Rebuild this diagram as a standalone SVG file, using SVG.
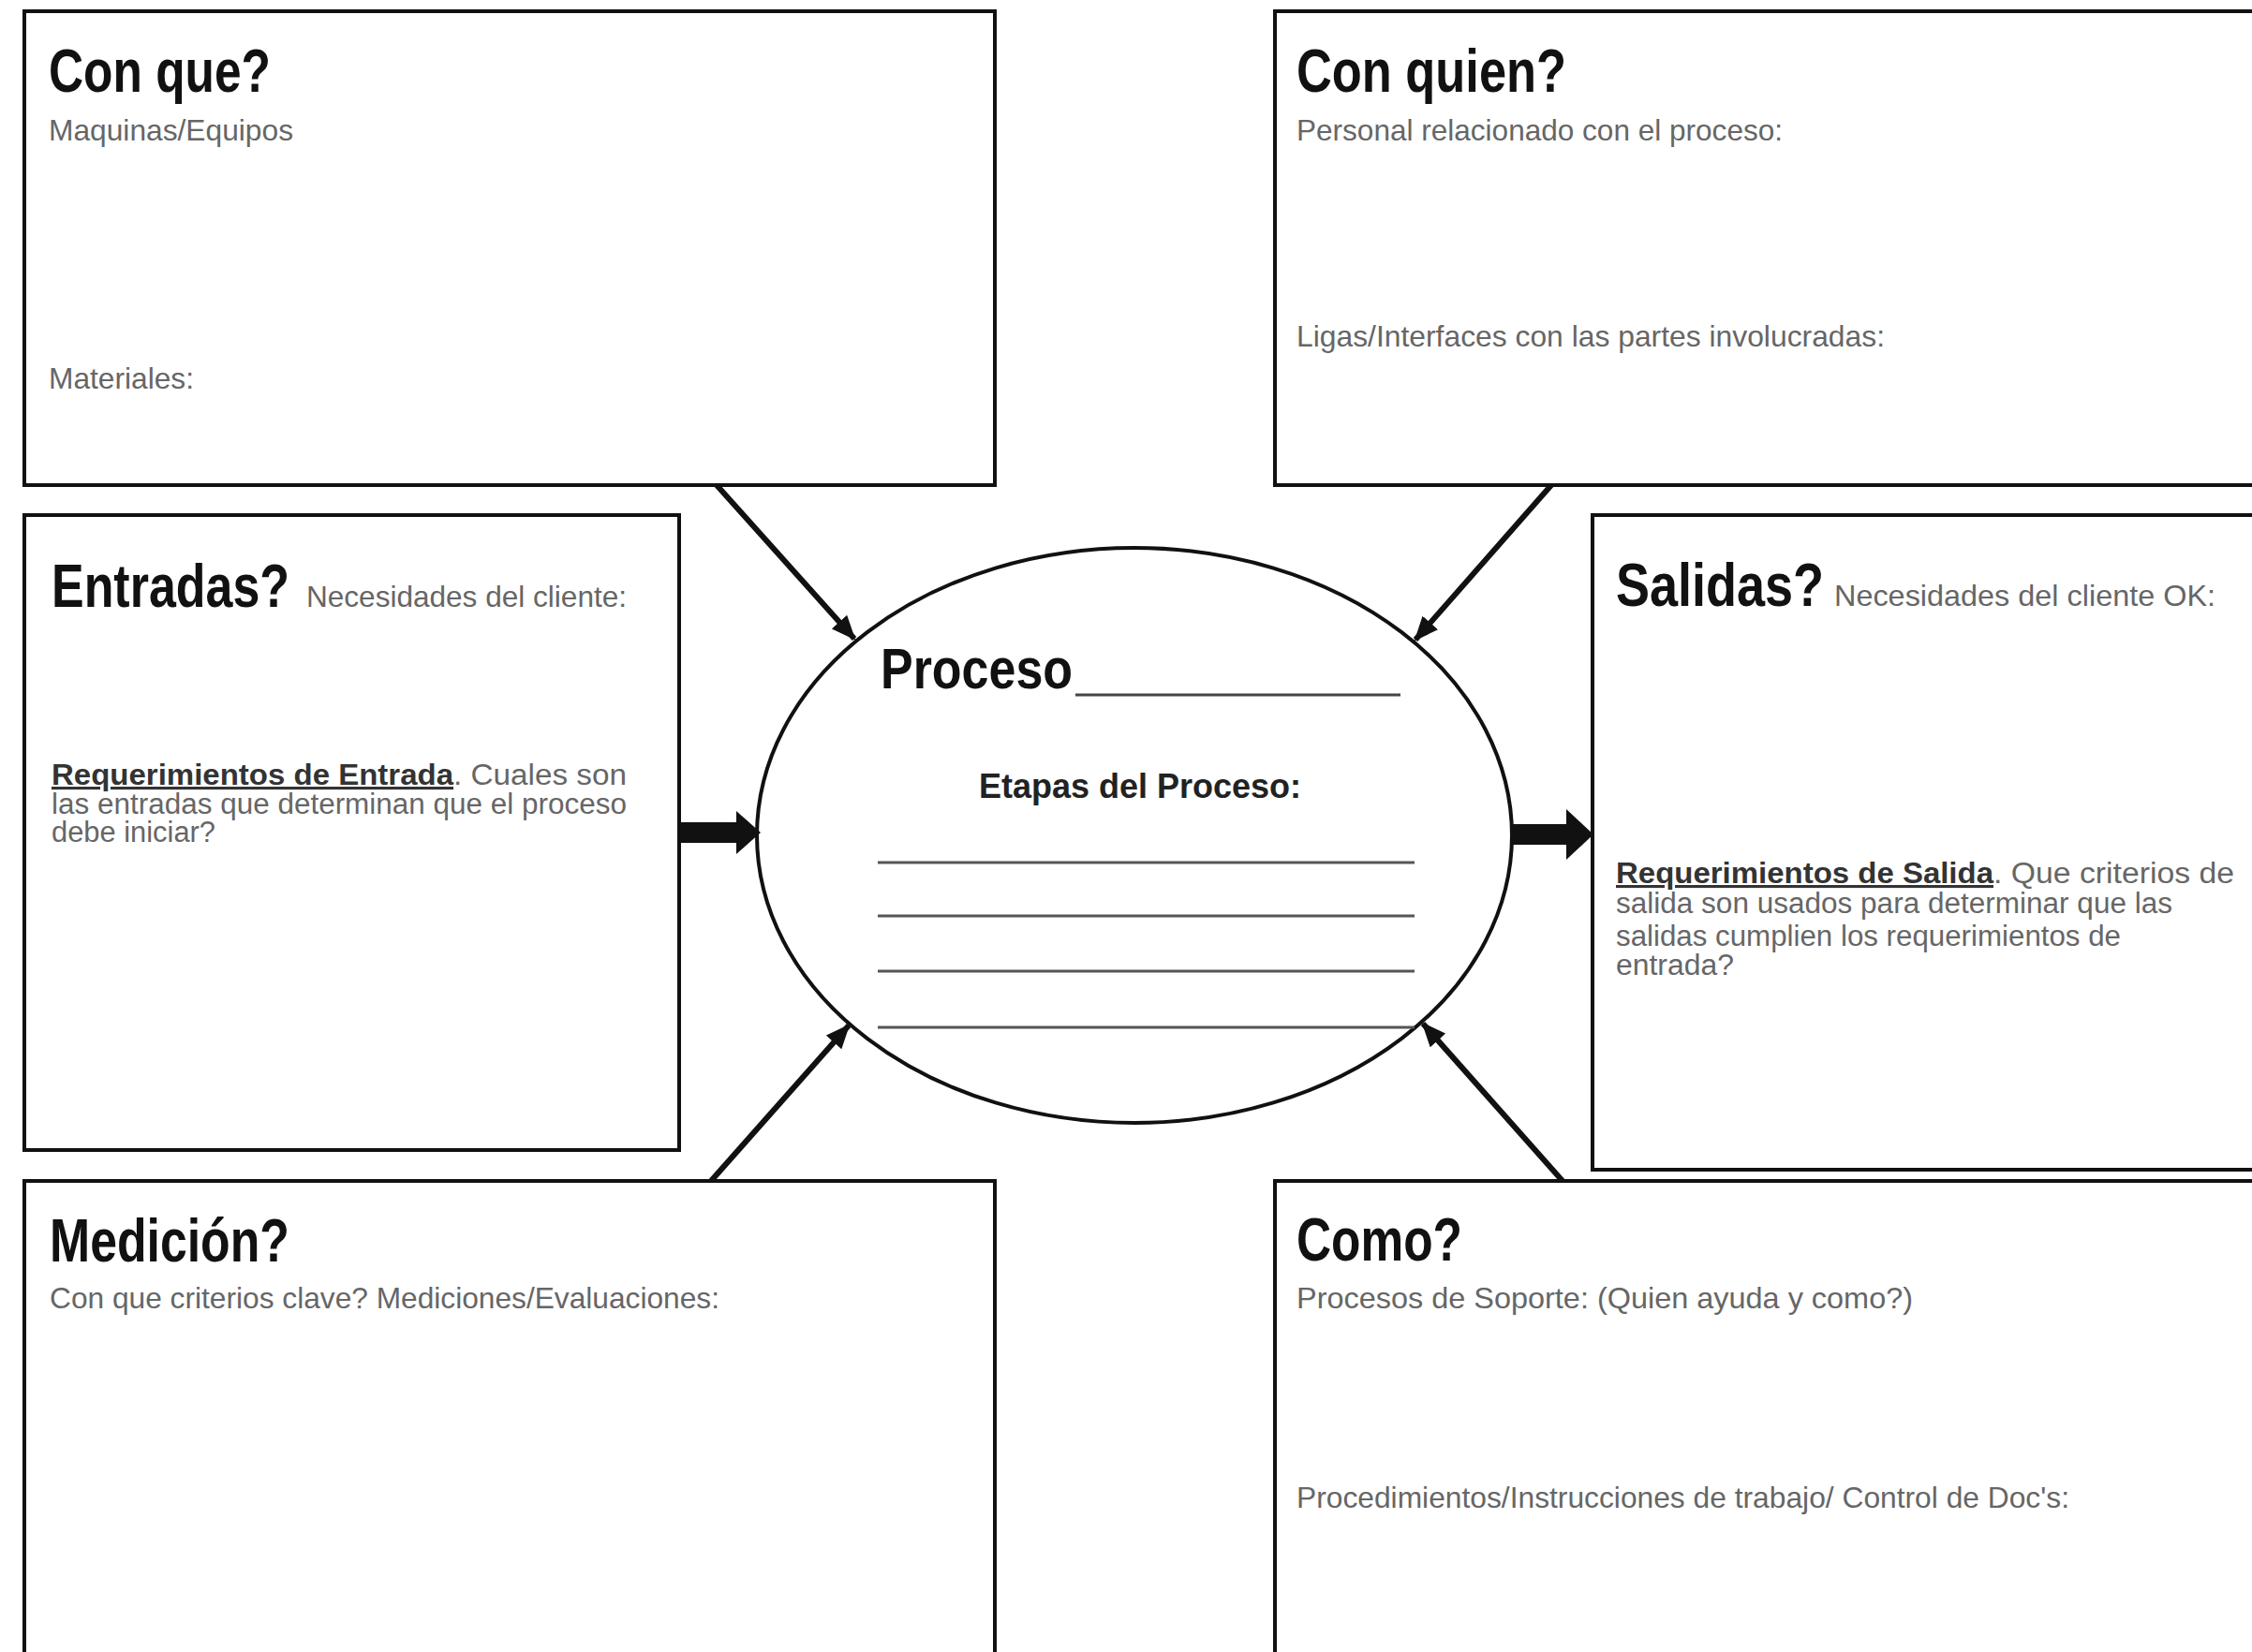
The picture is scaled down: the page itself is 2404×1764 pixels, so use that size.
<svg xmlns="http://www.w3.org/2000/svg" width="2404" height="1764" viewBox="0 0 2404 1764">
<style>
.box{fill:#fff;stroke:#111;stroke-width:4}
.h{font-family:"Liberation Sans",Arial,sans-serif;font-weight:bold;font-size:64px;fill:#111}
.s{font-family:"Liberation Sans",Arial,sans-serif;font-size:32px;fill:#666}
.p{font-family:"Liberation Sans",Arial,sans-serif;font-size:31px;fill:#666}
.pb{font-family:"Liberation Sans",Arial,sans-serif;font-size:31px;font-weight:bold;fill:#333;text-decoration:underline}
.conn{stroke:#111;stroke-width:6;fill:none}
.stage{stroke:#555;stroke-width:3}
</style>
<defs>
<marker id="ah" markerUnits="userSpaceOnUse" markerWidth="26" markerHeight="22" refX="24" refY="11" orient="auto">
<path d="M0,0 L26,11 L0,22 Z" fill="#111"/>
</marker>
</defs>
<rect width="2404" height="1764" fill="#fff"/>

<g id="con-que">
<rect class="box" x="26" y="12" width="1036" height="506"/>
<text class="h" x="52" y="98" textLength="237" lengthAdjust="spacingAndGlyphs">Con que?</text>
<text class="s" x="52" y="150" textLength="261" lengthAdjust="spacingAndGlyphs">Maquinas/Equipos</text>
<text class="s" x="52" y="415" textLength="155" lengthAdjust="spacingAndGlyphs">Materiales:</text>
</g>

<g id="con-quien">
<rect class="box" x="1361" y="12" width="1100" height="506"/>
<text class="h" x="1384" y="98" textLength="288" lengthAdjust="spacingAndGlyphs">Con quien?</text>
<text class="s" x="1384" y="150" textLength="519" lengthAdjust="spacingAndGlyphs">Personal relacionado con el proceso:</text>
<text class="s" x="1384" y="370" textLength="628" lengthAdjust="spacingAndGlyphs">Ligas/Interfaces con las partes involucradas:</text>
</g>

<g id="entradas">
<rect class="box" x="26" y="550" width="699" height="678"/>
<text class="h" x="55" y="648" textLength="254" lengthAdjust="spacingAndGlyphs">Entradas?</text>
<text class="s" x="327" y="648" textLength="342" lengthAdjust="spacingAndGlyphs">Necesidades del cliente:</text>
<text class="pb" x="55" y="838" textLength="429" lengthAdjust="spacingAndGlyphs">Requerimientos de Entrada</text>
<text class="p" x="484" y="838" textLength="185" lengthAdjust="spacingAndGlyphs">.  Cuales son</text>
<text class="p" x="55" y="869" textLength="614" lengthAdjust="spacingAndGlyphs">las entradas que determinan que el proceso</text>
<text class="p" x="55" y="899" textLength="175" lengthAdjust="spacingAndGlyphs">debe iniciar?</text>
</g>

<g id="salidas">
<rect class="box" x="1700" y="550" width="760" height="699"/>
<text class="h" x="1725" y="647" textLength="222" lengthAdjust="spacingAndGlyphs">Salidas?</text>
<text class="s" x="1958" y="647" textLength="407" lengthAdjust="spacingAndGlyphs">Necesidades del cliente OK:</text>
<text class="pb" x="1725" y="943" textLength="403" lengthAdjust="spacingAndGlyphs">Requerimientos de Salida</text>
<text class="p" x="2128" y="943" textLength="257" lengthAdjust="spacingAndGlyphs">.  Que criterios de</text>
<text class="p" x="1725" y="975" textLength="594" lengthAdjust="spacingAndGlyphs">salida son usados para determinar que las</text>
<text class="p" x="1725" y="1010" textLength="539" lengthAdjust="spacingAndGlyphs">salidas cumplien los requerimientos de</text>
<text class="p" x="1725" y="1041" textLength="126" lengthAdjust="spacingAndGlyphs">entrada?</text>
</g>

<g id="medicion">
<rect class="box" x="26" y="1261" width="1036" height="560"/>
<text class="h" x="53" y="1347" textLength="256" lengthAdjust="spacingAndGlyphs">Medición?</text>
<text class="s" x="53" y="1397" textLength="715" lengthAdjust="spacingAndGlyphs">Con que criterios clave? Mediciones/Evaluaciones:</text>
</g>

<g id="como">
<rect class="box" x="1361" y="1261" width="1100" height="560"/>
<text class="h" x="1384" y="1346" textLength="177" lengthAdjust="spacingAndGlyphs">Como?</text>
<text class="s" x="1384" y="1397" textLength="658" lengthAdjust="spacingAndGlyphs">Procesos de Soporte:  (Quien ayuda y como?)</text>
<text class="s" x="1384" y="1610" textLength="825" lengthAdjust="spacingAndGlyphs">Procedimientos/Instrucciones de trabajo/ Control de Doc's:</text>
</g>

<g id="proceso">
<ellipse cx="1211" cy="892" rx="403" ry="307" fill="#fff" stroke="#111" stroke-width="4"/>
<text class="h" x="940" y="735" style="font-size:62px" textLength="205" lengthAdjust="spacingAndGlyphs">Proceso</text>
<line x1="1148" y1="742" x2="1495" y2="742" stroke="#444" stroke-width="3"/>
<text x="1045" y="852" font-family="Liberation Sans, Arial, sans-serif" font-weight="bold" font-size="37" fill="#222" textLength="344" lengthAdjust="spacingAndGlyphs">Etapas del Proceso:</text>
<line class="stage" x1="937" y1="921" x2="1510" y2="921"/>
<line class="stage" x1="937" y1="978" x2="1510" y2="978"/>
<line class="stage" x1="937" y1="1037" x2="1510" y2="1037"/>
<line class="stage" x1="937" y1="1097" x2="1510" y2="1097"/>
</g>

<g id="connectors">
<line class="conn" x1="765" y1="518" x2="912" y2="682" marker-end="url(#ah)"/>
<line class="conn" x1="1656" y1="518" x2="1511" y2="683" marker-end="url(#ah)"/>
<line class="conn" x1="759" y1="1261" x2="906" y2="1095" marker-end="url(#ah)"/>
<line class="conn" x1="1668" y1="1261" x2="1519" y2="1093" marker-end="url(#ah)"/>
<rect x="725" y="878" width="64" height="22" fill="#111"/>
<path d="M786,866 L812,889 L786,912 Z" fill="#111"/>
<rect x="1613" y="880" width="62" height="22" fill="#111"/>
<path d="M1672,864 L1701,891 L1672,918 Z" fill="#111"/>
</g>
</svg>
